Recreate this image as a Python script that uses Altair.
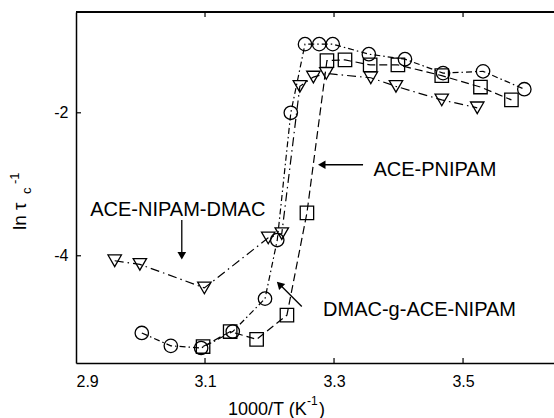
import altair as alt
import pandas as pd

# ---- data ----
circ_x = [3.002, 3.047, 3.094, 3.143, 3.193, 3.212, 3.233, 3.255, 3.277, 3.298, 3.354, 3.410, 3.469, 3.531, 3.595]
circ_y = [-5.08, -5.26, -5.29, -5.06, -4.60, -3.78, -2.00, -1.04, -1.04, -1.04, -1.18, -1.25, -1.445, -1.42, -1.67]

sq_x = [3.097, 3.139, 3.180, 3.227, 3.258, 3.289, 3.317, 3.356, 3.399, 3.467, 3.527, 3.575]
sq_y = [-5.27, -5.06, -5.17, -4.83, -3.40, -1.27, -1.26, -1.33, -1.33, -1.48, -1.64, -1.82]

tri_x = [2.960, 2.999, 3.099, 3.198, 3.219, 3.247, 3.268, 3.288, 3.357, 3.396, 3.467, 3.522]
tri_y = [-4.07, -4.12, -4.45, -3.75, -3.69, -1.63, -1.50, -1.45, -1.51, -1.63, -1.82, -1.93]

x_ticks = [2.9, 3.1, 3.3, 3.5]
y_ticks = [-2, -4]

ann_text = ["ACE-PNIPAM", "ACE-NIPAM-DMAC", "DMAC-g-ACE-NIPAM"]
ann_x = [3.361, 2.922, 3.283]
ann_y = [-2.891, -3.450, -4.839]

arrow_x1 = [3.345, 3.064, 3.250]
arrow_y1 = [-2.727, -3.50, -4.709]
arrow_x2 = [3.281, 3.064, 3.2155]
arrow_y2 = [-2.727, -4.00, -4.399]
arrow_shape = ["triangle-left", "triangle-down", "triangle-up"]
arrow_angle = [0, 0, 315]

W, H = 478, 351
XDOM = [2.9, 3.641]
YDOM = [-5.5, -0.59]
FONT = "Liberation Sans"

circ = pd.DataFrame({"x": circ_x, "y": circ_y})
sq = pd.DataFrame({"x": sq_x, "y": sq_y})
tri = pd.DataFrame({"x": tri_x, "y": tri_y})
ann = pd.DataFrame({"t": ann_text, "x": ann_x, "y": ann_y})
arr = pd.DataFrame({"x1": arrow_x1, "y1": arrow_y1, "x2": arrow_x2, "y2": arrow_y2,
                    "shape": arrow_shape, "ang": arrow_angle})
xt = pd.DataFrame({"v": [3.1, 3.3, 3.5]})
yt = pd.DataFrame({"v": y_ticks})

xs = alt.Scale(domain=XDOM, nice=False, zero=False)
ys = alt.Scale(domain=YDOM, nice=False, zero=False)

X = alt.X("x:Q", scale=xs, axis=alt.Axis(values=x_ticks, labelExpr="format(datum.value, '.1f')",
                                          ticks=False, grid=False, title=None, domainColor="black",
                                          domainWidth=1.5, labelFont=FONT, labelFontSize=16,
                                          labelColor="black", labelPadding=10))
Y = alt.Y("y:Q", scale=ys, axis=alt.Axis(values=y_ticks, labelExpr="'' + datum.value",
                                          ticks=False, grid=False, title=None, domainColor="black",
                                          domainWidth=1.5, labelFont=FONT, labelFontSize=16,
                                          labelColor="black", labelPadding=8))


def series(df, dash, shape):
    line = alt.Chart(df).mark_line(color="black", strokeWidth=1.2, strokeDash=dash).encode(x=X, y=Y)
    pts = alt.Chart(df).mark_point(shape=shape, filled=False, size=180, color="black",
                                   strokeWidth=1.3, opacity=1).encode(x=X, y=Y)
    return line + pts


layers = [
    series(circ, [6, 3, 1.5, 3], "circle"),
    series(sq, [8, 4], "square"),
    series(tri, [9, 4, 1.5, 4], "triangle-down"),
]

# arrows
arrow_lines = alt.Chart(arr).mark_rule(color="black", strokeWidth=1.3).encode(
    x=alt.X("x1:Q", scale=xs), y=alt.Y("y1:Q", scale=ys),
    x2="x2:Q", y2="y2:Q")
heads = []
for i in range(len(arrow_shape)):
    heads.append(alt.Chart(arr.iloc[[i]]).mark_point(
        shape=arrow_shape[i], angle=arrow_angle[i], filled=True, size=75, color="black", opacity=1
    ).encode(x=alt.X("x2:Q", scale=xs), y=alt.Y("y2:Q", scale=ys)))

texts = alt.Chart(ann).mark_text(align="left", baseline="alphabetic", font=FONT, fontSize=20,
                                 color="black").encode(
    x=alt.X("x:Q", scale=xs), y=alt.Y("y:Q", scale=ys), text="t:N")

# spine on top and inward ticks
top = alt.Chart(xt).mark_rule(color="black", strokeWidth=1.5).encode(
    x=alt.value(0), x2=alt.value(W), y=alt.value(0))
bt = alt.Chart(xt).mark_rule(color="black", strokeWidth=1.2).encode(
    x=alt.X("v:Q", scale=xs), y=alt.value(H), y2=alt.value(H - 5))
tt = alt.Chart(xt).mark_rule(color="black", strokeWidth=1.2).encode(
    x=alt.X("v:Q", scale=xs), y=alt.value(0), y2=alt.value(5))
lt = alt.Chart(yt).mark_rule(color="black", strokeWidth=1.2).encode(
    y=alt.Y("v:Q", scale=ys), x=alt.value(0), x2=alt.value(5))

# axis titles as text pieces
def txt(s, x, y, size, angle=0):
    return alt.Chart(pd.DataFrame({"s": [s]})).mark_text(
        align="left", baseline="alphabetic", font=FONT, fontSize=size, color="black", angle=angle
    ).encode(x=alt.value(x), y=alt.value(y), text="s:N")

xtitle = [txt("1000/T (K", 152, 403, 18), txt("-1", 231, 393, 12), txt(")", 243, 403, 18)]
ytitle = [txt("ln τ", -50, 218, 19, 270), txt("c", -45, 182, 13, 270), txt("-1", -57, 172, 13, 270)]

chart = alt.layer(*layers, arrow_lines, *heads, texts, top, bt, tt, lt, *xtitle, *ytitle).properties(
    width=W, height=H,
    autosize=alt.AutoSizeParams(type="none"),
    padding={"left": 76, "top": 12, "right": 0, "bottom": 55},
).configure_view(stroke=None).configure(background="white")

chart.save("out.html", embed_options={"renderer": "svg", "actions": False})
